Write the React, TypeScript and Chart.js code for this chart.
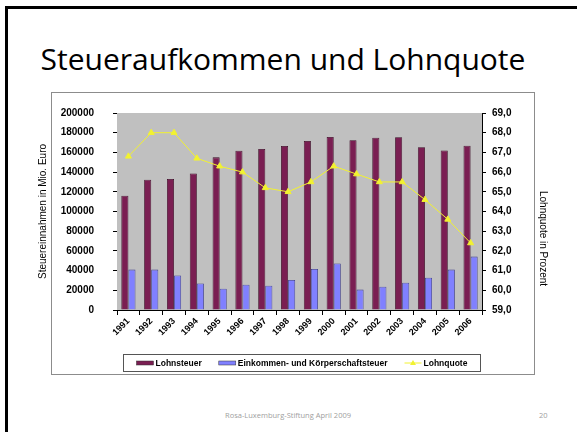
import React, { useEffect, useRef } from 'react';
import { Chart, registerables } from 'chart.js';

Chart.register(...registerables);

const years = ['1991', '1992', '1993', '1994', '1995', '1996', '1997', '1998', '1999', '2000', '2001', '2002', '2003', '2004', '2005', '2006'];
const lohnsteuer = [116000, 132300, 133000, 138600, 155000, 161600, 163500, 166500, 171700, 175700, 172400, 175000, 175400, 165200, 161900, 166800];
const einkommen = [41000, 41000, 35000, 27000, 21700, 25600, 24600, 30500, 41700, 47300, 20700, 23600, 27600, 32800, 41000, 54200];
const lohnquote = [66.8, 68.0, 68.0, 66.7, 66.3, 66.0, 65.2, 65.0, 65.5, 66.3, 65.9, 65.5, 65.5, 64.6, 63.6, 62.4];

const seriesNames = ['Lohnsteuer', 'Einkommen- und Körperschaftsteuer', 'Lohnquote'];
const slideTitle = 'Steueraufkommen und Lohnquote';
const leftTitle = 'Steuereinnahmen in Mio. Euro';
const rightTitle = 'Lohnquote in Prozent';
const footerText = 'Rosa-Luxemburg-Stiftung April 2009';
const pageNumber = '20';

const MAROON = '#7a1e52';
const BLUE = '#8080ff';
const YELLOW = '#f2f230';
const AXIS_FONT = 'Liberation Sans, Arial, sans-serif';

const plotBg = {
  id: 'plotBg',
  beforeDatasetsDraw(chart: any) {
    const { ctx, chartArea } = chart;
    ctx.save();
    ctx.fillStyle = '#c0c0c0';
    ctx.fillRect(chartArea.left, chartArea.top, chartArea.right - chartArea.left, chartArea.bottom - chartArea.top);
    ctx.restore();
  },
};

const rightAxisTitle = {
  id: 'rightAxisTitle',
  afterDraw(chart: any) {
    const { ctx, chartArea } = chart;
    const s = chart.scales.y1;
    ctx.save();
    ctx.font = '10px ' + AXIS_FONT;
    ctx.fillStyle = '#000';
    ctx.textAlign = 'center';
    ctx.textBaseline = 'middle';
    ctx.translate(s.right - 7, (chartArea.top + chartArea.bottom) / 2 + 27);
    ctx.rotate(Math.PI / 2);
    ctx.fillText(rightTitle, 0, 0);
    ctx.restore();
  },
};

const boxLegend = {
  id: 'boxLegend',
  afterDraw(chart: any) {
    const { ctx } = chart;
    ctx.save();
    ctx.font = 'bold 8.5px ' + AXIS_FONT;
    const sw = 17;
    const gapIn = 2;
    const gapOut = 17;
    const pad = 13;
    const items = chart.data.datasets.map((d: any) => ({
      label: d.label,
      type: d.type || 'bar',
      color: d.type === 'line' ? d.borderColor : d.backgroundColor,
      w: ctx.measureText(d.label).width,
    }));
    let total = 0;
    items.forEach((it: any, i: number) => {
      total += sw + gapIn + it.w + (i < items.length - 1 ? gapOut : 0);
    });
    const centerX = 271;
    const boxW = total + pad * 2;
    const boxL = Math.round(centerX - boxW / 2) + 0.5;
    const boxT = 266.5;
    const boxH = 17;
    ctx.strokeStyle = '#555';
    ctx.lineWidth = 1;
    ctx.strokeRect(boxL, boxT, Math.round(boxW), boxH);
    const cy = boxT + boxH / 2;
    let x = boxL + pad;
    items.forEach((it: any) => {
      if (it.type === 'line') {
        ctx.strokeStyle = it.color;
        ctx.lineWidth = 1;
        ctx.beginPath();
        ctx.moveTo(x, cy);
        ctx.lineTo(x + sw, cy);
        ctx.stroke();
        const mx = x + sw / 2;
        ctx.fillStyle = it.color;
        ctx.beginPath();
        ctx.moveTo(mx, cy - 3);
        ctx.lineTo(mx + 3, cy + 2);
        ctx.lineTo(mx - 3, cy + 2);
        ctx.closePath();
        ctx.fill();
      } else {
        ctx.fillStyle = it.color;
        ctx.fillRect(x, cy - 2, sw, 4);
        ctx.strokeStyle = '#333';
        ctx.lineWidth = 0.5;
        ctx.strokeRect(x, cy - 2, sw, 4);
      }
      x += sw + gapIn;
      ctx.fillStyle = '#000';
      ctx.textBaseline = 'middle';
      ctx.textAlign = 'left';
      ctx.fillText(it.label, x, cy + 0.5);
      x += it.w + gapOut;
    });
    ctx.restore();
  },
};

export default function App() {
  const ref = useRef<HTMLCanvasElement | null>(null);

  useEffect(() => {
    const canvas = ref.current;
    if (!canvas) return;
    const chart = new Chart(canvas, {
      type: 'bar',
      data: {
        labels: years,
        datasets: [
          {
            type: 'bar',
            label: seriesNames[0],
            data: lohnsteuer,
            yAxisID: 'y',
            backgroundColor: MAROON,
            borderColor: '#3a0a24',
            borderWidth: 0.8,
            categoryPercentage: 0.62,
            barPercentage: 1,
            order: 1,
          },
          {
            type: 'bar',
            label: seriesNames[1],
            data: einkommen,
            yAxisID: 'y',
            backgroundColor: BLUE,
            borderColor: '#3a3a8a',
            borderWidth: 0.8,
            categoryPercentage: 0.62,
            barPercentage: 1,
            order: 1,
          },
          {
            type: 'line',
            label: seriesNames[2],
            data: lohnquote,
            yAxisID: 'y1',
            borderColor: YELLOW,
            backgroundColor: YELLOW,
            borderWidth: 1,
            pointStyle: 'triangle',
            pointRadius: 3.5,
            pointBackgroundColor: YELLOW,
            pointBorderColor: YELLOW,
            order: 0,
          } as any,
        ],
      },
      options: {
        responsive: false,
        animation: false,
        devicePixelRatio: 1,
        layout: { padding: { top: 19, left: 0, right: 0, bottom: 0 } },
        plugins: {
          legend: { display: false },
          tooltip: { enabled: false },
        },
        scales: {
          x: {
            offset: true,
            grid: { offset: true, drawOnChartArea: false, drawTicks: true, tickLength: 5, color: '#000' },
            border: { display: true, color: '#000', width: 1 },
            ticks: {
              color: '#000',
              font: { family: AXIS_FONT, weight: 'bold', size: 9 },
              minRotation: 45,
              maxRotation: 45,
              padding: 1,
              autoSkip: false,
            },
            afterFit(s: any) {
              s.height = 68;
            },
          },
          y: {
            position: 'left',
            min: 0,
            max: 200000,
            grid: { drawOnChartArea: false, drawTicks: true, tickLength: 4, color: '#000' },
            border: { display: true, color: '#000', width: 1 },
            ticks: {
              stepSize: 20000,
              color: '#000',
              font: { family: AXIS_FONT, weight: 'bold', size: 10 },
              padding: 19,
              callback: (v: any) => String(v),
            },
            title: {
              display: true,
              text: leftTitle,
              color: '#000',
              font: { family: AXIS_FONT, size: 10 },
              padding: { top: 7, bottom: 0 },
            },
            afterFit(s: any) {
              s.width = 87;
            },
          },
          y1: {
            position: 'right',
            min: 59,
            max: 69,
            grid: { drawOnChartArea: false, drawTicks: true, tickLength: 4, color: '#000' },
            border: { display: true, color: '#000', width: 1 },
            ticks: {
              stepSize: 1,
              color: '#000',
              font: { family: AXIS_FONT, weight: 'bold', size: 10 },
              padding: 6,
              callback: (v: any) => Number(v).toFixed(1).replace('.', ','),
            },
            afterFit(s: any) {
              s.width = 68;
            },
          },
        },
      } as any,
      plugins: [plotBg, boxLegend, rightAxisTitle],
    });
    return () => chart.destroy();
  }, []);

  return (
    <div style={{ position: 'absolute', left: 0, top: 0, width: 577, height: 432, background: '#fff', overflow: 'hidden' }}>
      <div
        style={{
          position: 'absolute',
          left: 5,
          top: 6,
          width: 620,
          height: 480,
          borderLeft: '3px solid #000',
          borderTop: '3px solid #000',
        }}
      />
      <div
        style={{
          position: 'absolute',
          left: 0,
          top: 43,
          width: 566,
          textAlign: 'center',
          fontFamily: '"Open Sans", sans-serif',
          fontSize: 30,
          lineHeight: '32px',
          color: '#000',
          whiteSpace: 'nowrap',
        }}
      >
        {slideTitle}
      </div>
      <div
        style={{
          position: 'absolute',
          left: 51,
          top: 92,
          width: 482,
          height: 281,
          border: '1px solid #8c8c8c',
        }}
      />
      <canvas
        ref={ref}
        width={520}
        height={290}
        style={{ position: 'absolute', left: 30, top: 88, width: 520, height: 290 }}
      />
      <div
        style={{
          position: 'absolute',
          left: 225,
          top: 409,
          fontFamily: '"Open Sans", sans-serif',
          fontSize: 7.5,
          lineHeight: '12px',
          color: '#a0a0a0',
          whiteSpace: 'nowrap',
        }}
      >
        {footerText}
      </div>
      <div
        style={{
          position: 'absolute',
          left: 539,
          top: 409,
          fontFamily: '"Open Sans", sans-serif',
          fontSize: 7.5,
          lineHeight: '12px',
          color: '#a0a0a0',
        }}
      >
        {pageNumber}
      </div>
    </div>
  );
}
